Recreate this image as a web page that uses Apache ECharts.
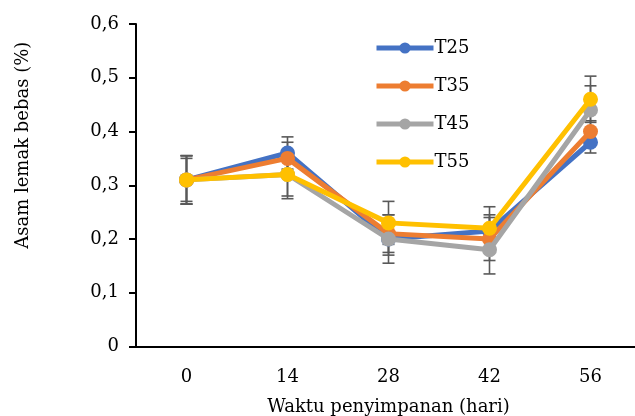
<!DOCTYPE html>
<html>
<head>
<meta charset="utf-8">
<script src="https://cdn.jsdelivr.net/npm/echarts@6/dist/echarts.min.js"></script>
<style>
html,body{margin:0;padding:0;background:#fff;}
#chart{width:635px;height:416px;}
</style>
</head>
<body>
<div id="chart"></div>
<script>
var days = ['0', '14', '28', '42', '56'];
var seriesNames = ['T25', 'T35', 'T45', 'T55'];
var t25 = [0.31, 0.36, 0.20, 0.215, 0.38];
var t35 = [0.31, 0.35, 0.21, 0.20, 0.40];
var t45 = [0.31, 0.32, 0.20, 0.18, 0.44];
var t55 = [0.31, 0.32, 0.23, 0.22, 0.46];
// standard deviation per point
var t25Err = [0.045, 0.03, 0.03, 0.03, 0.02];
var t35Err = [0.04, 0.03, 0.035, 0.04, 0.02];
var t45Err = [0.045, 0.04, 0.045, 0.045, 0.045];
var t55Err = [0.045, 0.045, 0.04, 0.04, 0.043];
var colors = ['#4472C4', '#ED7D31', '#A5A5A5', '#FFC000'];

var allVals = [t25, t35, t45, t55];
var allErr = [t25Err, t35Err, t45Err, t55Err];
var fontFam = 'DejaVu Serif, Liberation Serif, serif';

function errData(vals, errs){
    var out = [];
    for(var i = 0; i < vals.length; i++){
        out.push([i, vals[i] - errs[i], vals[i] + errs[i]]);
    }
    return out;
}

function renderErr(params, api){
    var x = api.value(0);
    var lo = api.coord([x, api.value(1)]);
    var hi = api.coord([x, api.value(2)]);
    var w = 6;
    var st = {stroke: '#595959', lineWidth: 1.6};
    return {
        type: 'group',
        children: [
            {type: 'line', shape: {x1: lo[0], y1: lo[1], x2: hi[0], y2: hi[1]}, style: st},
            {type: 'line', shape: {x1: lo[0]-w, y1: lo[1], x2: lo[0]+w, y2: lo[1]}, style: st},
            {type: 'line', shape: {x1: hi[0]-w, y1: hi[1], x2: hi[0]+w, y2: hi[1]}, style: st}
        ]
    };
}

var series = [];
for(var i = 0; i < seriesNames.length; i++){
    series.push({
        name: seriesNames[i],
        type: 'line',
        data: allVals[i],
        symbol: 'circle',
        symbolSize: 15,
        lineStyle: {width: 5, color: colors[i]},
        itemStyle: {color: colors[i]},
        z: 10 + i,
        animation: false
    });
    series.push({
        name: seriesNames[i] + '_err',
        type: 'custom',
        data: errData(allVals[i], allErr[i]),
        renderItem: renderErr,
        z: 5,
        silent: true,
        animation: false
    });
}

var myChart = echarts.init(document.getElementById('chart'));
var option = {
    backgroundColor: '#fff',
    color: colors,
    grid: {left: 136, top: 24, width: 505, bottom: 69.5, outerBoundsMode: 'none', containLabel: false},
    legend: {
        data: seriesNames,
        orient: 'vertical',
        left: 369,
        top: 34,
        itemWidth: 57,
        itemHeight: 14,
        itemGap: 20,
        lineStyle: {width: 5},
        textStyle: {fontFamily: fontFam, fontSize: 18, color: '#000', padding: [0, 0, 0, -4]}
    },
    xAxis: {
        type: 'category',
        data: days,
        boundaryGap: true,
        name: 'Waktu penyimpanan (hari)',
        nameLocation: 'middle',
        nameGap: 52,
        nameTextStyle: {fontFamily: fontFam, fontSize: 18, color: '#000'},
        axisLine: {lineStyle: {color: '#000', width: 2}},
        axisTick: {show: false},
        axisLabel: {fontFamily: fontFam, fontSize: 18, color: '#000', margin: 22}
    },
    yAxis: {
        type: 'value',
        min: 0,
        max: 0.6,
        interval: 0.1,
        name: 'Asam lemak bebas (%)',
        nameLocation: 'middle',
        nameGap: 104,
        nameTextStyle: {fontFamily: fontFam, fontSize: 18, color: '#000', padding: [0, 0, 0, 80]},
        axisLine: {show: true, lineStyle: {color: '#000', width: 2}},
        axisTick: {show: true, length: 7, lineStyle: {color: '#000', width: 2}},
        splitLine: {show: false},
        axisLabel: {
            fontFamily: fontFam, fontSize: 18, color: '#000', margin: 17,
            formatter: function(v){
                return v === 0 ? '0' : v.toFixed(1).replace('.', ',');
            }
        }
    },
    series: series
};
myChart.setOption(option, true);
</script>
</body>
</html>
